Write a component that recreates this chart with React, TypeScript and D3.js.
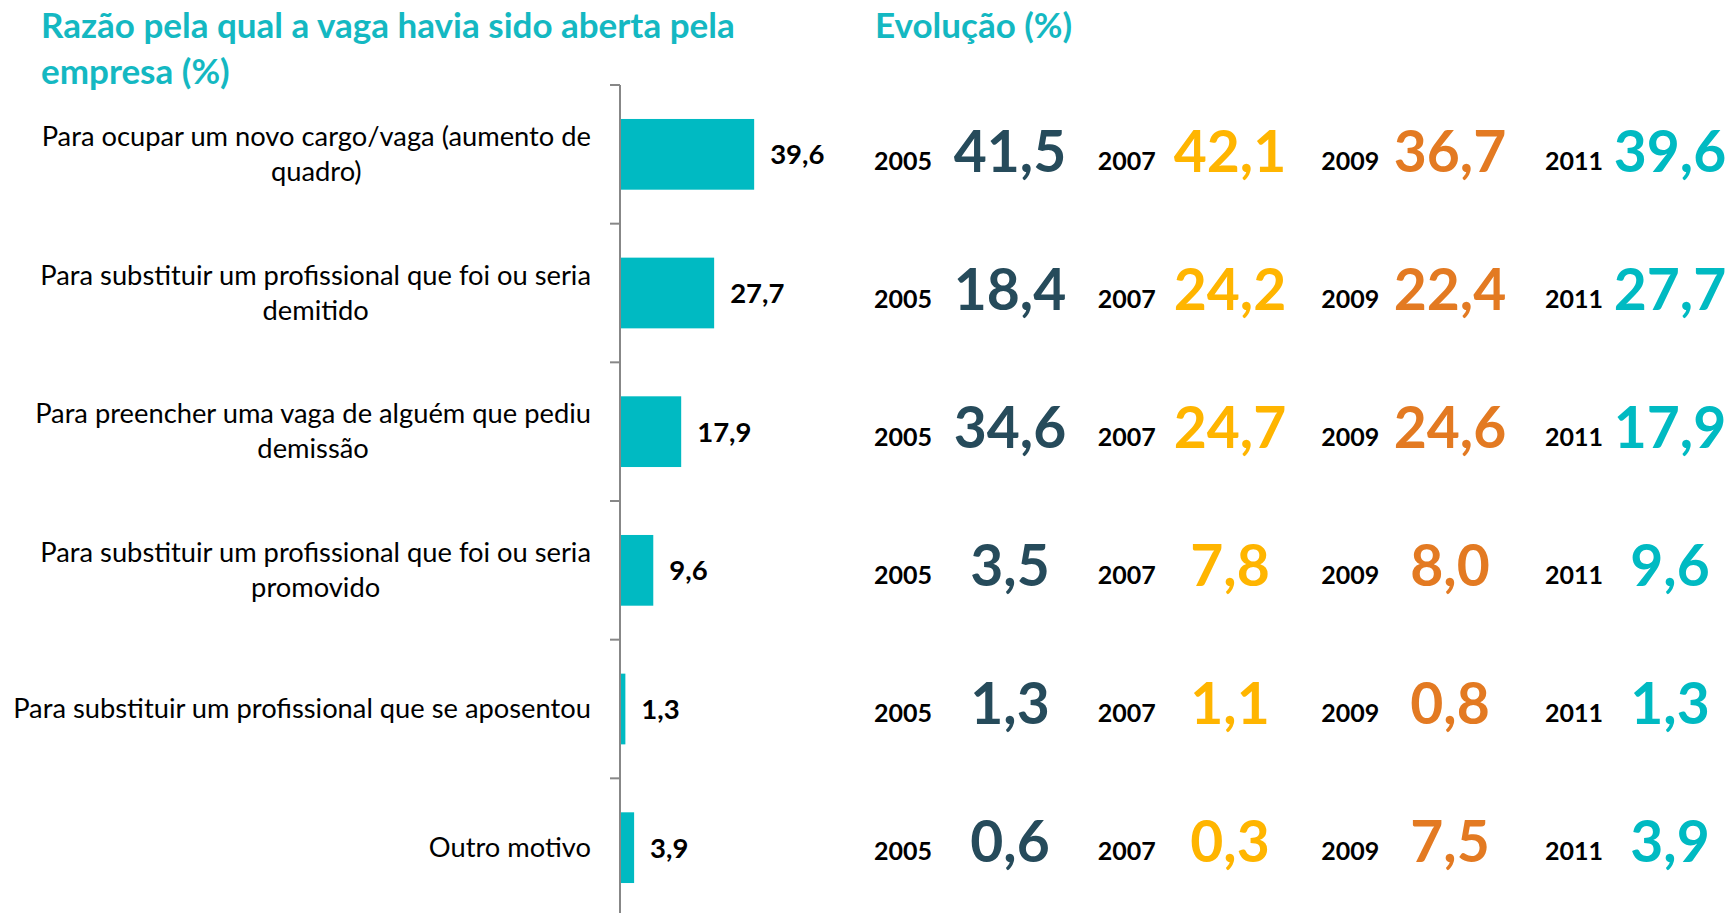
import React, { useEffect, useRef } from "react";
import * as d3 from "d3";

const categoryLines: string[][] = [
  ["Para ocupar um novo cargo/vaga (aumento de", "quadro)"],
  ["Para substituir um profissional que foi ou seria", "demitido"],
  ["Para preencher uma vaga de alguém que pediu", "demissão"],
  ["Para substituir um profissional que foi ou seria", "promovido"],
  ["Para substituir um profissional que se aposentou"],
  ["Outro motivo"],
];
const values2011 = [39.6, 27.7, 17.9, 9.6, 1.3, 3.9];

const years = ["2005", "2007", "2009", "2011"];
const evo2005 = [41.5, 18.4, 34.6, 3.5, 1.3, 0.6];
const evo2007 = [42.1, 24.2, 24.7, 7.8, 1.1, 0.3];
const evo2009 = [36.7, 22.4, 24.6, 8.0, 0.8, 7.5];
const evo2011 = [39.6, 27.7, 17.9, 9.6, 1.3, 3.9];
const evoSeries = [evo2005, evo2007, evo2009, evo2011];
const yearColors = ["#264B5B", "#FFB500", "#E37A22", "#00BAC2"];

const titleLeft = ["Razão pela qual a vaga havia sido aberta pela", "empresa (%)"];
const titleRight = "Evolução (%)";

const W = 1730;
const H = 913;
const FONT = "Lato, 'Open Sans', sans-serif";
const TEAL = "#00BAC2";
const TITLE_TEAL = "#14B8C2";

const locale = d3.formatLocale({ decimal: ",", thousands: ".", grouping: [3], currency: ["R$", ""] });
const fmt = locale.format(".1f");

export default function App() {
  const ref = useRef<SVGSVGElement | null>(null);

  useEffect(() => {
    const svg = d3.select(ref.current);
    svg.selectAll("*").remove();

    const idx = d3.range(categoryLines.length);
    const y = d3.scaleBand<number>().domain(idx).range([85, 917]).paddingInner(0.49).paddingOuter(0.245);
    const yTick = d3.scaleLinear().domain([0, categoryLines.length]).range([85, 917]);
    const x = d3.scaleLinear().domain([0, 40]).range([621, 621 + 134.5]);
    const yEvo = d3.scalePoint<number>().domain(idx).range([151, 841]);

    // titles
    const tl = svg.append("text").attr("font-family", FONT).attr("font-weight", 700)
      .attr("font-size", 35).attr("fill", TITLE_TEAL);
    titleLeft.forEach((t, i) => {
      tl.append("tspan").attr("x", 41).attr("y", 38 + i * 46).text(t);
    });
    svg.append("text").attr("x", 875).attr("y", 38).attr("font-family", FONT).attr("font-weight", 700)
      .attr("font-size", 35).attr("fill", TITLE_TEAL).text(titleRight);

    // axis
    svg.append("line").attr("x1", 620).attr("x2", 620).attr("y1", 85).attr("y2", 917)
      .attr("stroke", "#878787").attr("stroke-width", 2);
    d3.range(categoryLines.length + 1).forEach((k) => {
      svg.append("line").attr("x1", 610).attr("x2", 620).attr("y1", yTick(k)).attr("y2", yTick(k))
        .attr("stroke", "#878787").attr("stroke-width", 2);
    });

    // bars
    svg.selectAll("rect.bar").data(idx).enter().append("rect").attr("class", "bar")
      .attr("x", x(0)).attr("y", (d) => y(d)!).attr("height", y.bandwidth())
      .attr("width", (d) => x(values2011[d]) - x(0)).attr("fill", TEAL);

    svg.selectAll("text.val").data(idx).enter().append("text").attr("class", "val")
      .attr("x", (d) => x(values2011[d]) + 16).attr("y", (d) => y(d)! + y.bandwidth() / 2 + 10)
      .attr("font-family", FONT).attr("font-weight", 700).attr("font-size", 27.5).attr("fill", "#000")
      .text((d) => fmt(values2011[d]));

    // category labels
    const labelRight = 591;
    idx.forEach((d) => {
      const lines = categoryLines[d];
      const cy = y(d)! + y.bandwidth() / 2;
      const g = svg.append("g");
      const texts = lines.map((ln, i) =>
        g.append("text").attr("font-family", FONT).attr("font-size", 27.3).attr("fill", "#000")
          .attr("y", cy + (i - (lines.length - 1) / 2) * 35 + 9).text(ln)
      );
      const widths = texts.map((t) => (t.node() as SVGTextElement).getComputedTextLength());
      const maxW = d3.max(widths) || 0;
      const cx = labelRight - maxW / 2;
      texts.forEach((t) => t.attr("x", cx).attr("text-anchor", "middle"));
    });

    // evolution grid
    const yearX = d3.scalePoint<string>().domain(years).range([874, 1545]);
    const numX = d3.scalePoint<string>().domain(years).range([1010, 1670]);
    years.forEach((yr, j) => {
      idx.forEach((d) => {
        const base = yEvo(d)! + 19;
        svg.append("text").attr("x", yearX(yr)!).attr("y", base)
          .attr("font-family", FONT).attr("font-weight", 700).attr("font-size", 25).attr("fill", "#000")
          .text(yr);
        svg.append("text").attr("x", numX(yr)!).attr("y", base + 2).attr("text-anchor", "middle")
          .attr("font-family", FONT).attr("font-weight", 700).attr("font-size", 57).attr("fill", yearColors[j])
          .text(fmt(evoSeries[j][d]));
      });
    });
  }, []);

  return (
    <svg ref={ref} width={W} height={H}
      style={{ position: "absolute", left: 0, top: 0, background: "#fff", display: "block" }} />
  );
}
